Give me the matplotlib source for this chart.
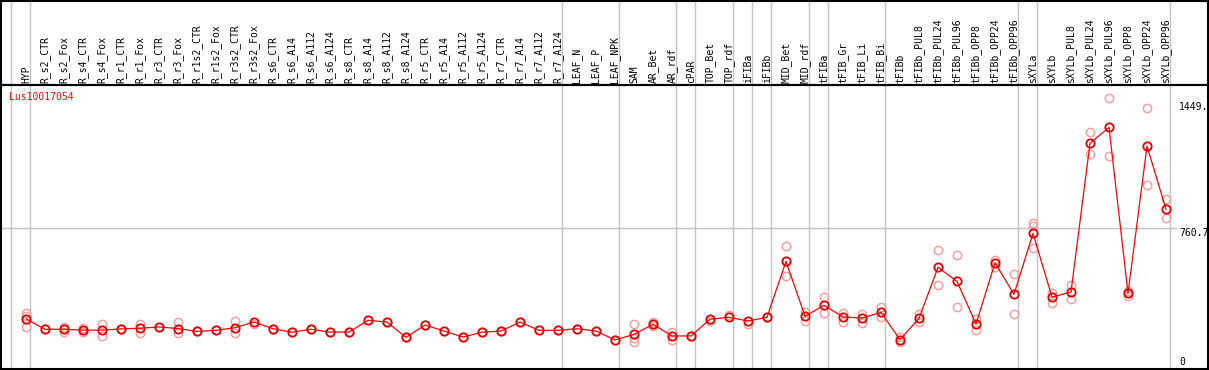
import matplotlib
matplotlib.use("Agg")
import matplotlib.pyplot as plt
from matplotlib.patches import Rectangle
from matplotlib.transforms import blended_transform_factory

# === Data ===
gene = "Lus10017054"

samples = [
    "HYP", "R_s2_CTR", "R_s2_Fox", "R_s4_CTR", "R_s4_Fox", "R_r1_CTR", "R_r1_Fox",
    "R_r3_CTR", "R_r3_Fox", "R_r1s2_CTR", "R_r1s2_Fox", "R_r3s2_CTR", "R_r3s2_Fox",
    "R_s6_CTR", "R_s6_A14", "R_s6_A112", "R_s6_A124", "R_s8_CTR", "R_s8_A14",
    "R_s8_A112", "R_s8_A124", "R_r5_CTR", "R_r5_A14", "R_r5_A112", "R_r5_A124",
    "R_r7_CTR", "R_r7_A14", "R_r7_A112", "R_r7_A124", "LEAF_N", "LEAF_P", "LEAF_NPK",
    "SAM", "AR_Bet", "AR_rdf", "cPAR", "TOP_Bet", "TOP_rdf", "iFIBa", "iFIBb",
    "MID_Bet", "MID_rdf", "tFIBa", "tFIB_Gr", "tFIB_Li", "tFIB_Bi", "tFIBb",
    "tFIBb_PUL8", "tFIBb_PUL24", "tFIBb_PUL96", "tFIBb_OPP8", "tFIBb_OPP24", "tFIBb_OPP96",
    "sXYLa", "sXYLb", "sXYLb_PUL8", "sXYLb_PUL24", "sXYLb_PUL96", "sXYLb_OPP8",
    "sXYLb_OPP24", "sXYLb_OPP96",
]

means = [
    245, 186, 186, 181, 181, 188, 192, 199, 190, 174, 180, 195, 227,
    189, 169, 186, 170, 170, 237, 227, 140, 210, 176, 142, 169,
    176, 227, 180, 180, 189, 176, 125,
    157, 214, 148, 148, 243, 254, 233, 254,
    572, 260, 322, 256, 250, 282, 127,
    248, 538, 458, 216, 563, 385,
    731, 369, 398, 1243, 1333, 390, 1227, 868,
]

replicates = [
    [277, 263, 197], [186], [200, 170], [191, 170], [218, 145], [188], [218, 166],
    [199], [229, 162], [174], [180], [231, 163], [218],
    [189], [169], [186], [170], [170], [237], [227], [140], [210], [176], [142], [169],
    [176], [227], [180], [180], [189], [176], [125],
    [216, 135, 115], [229, 205], [172, 125], [148], [235], [267], [216], [254],
    [657, 489], [286, 235], [368, 276], [276, 225], [271, 222], [311, 258], [144, 115],
    [273, 229], [635, 436], [606, 311], [246, 180], [580, 538], [500, 271],
    [788, 773, 646], [394, 337], [438, 356], [1305, 1180], [1498, 1169], [405, 375],
    [1441, 1004], [924, 817],
]

# group separators (drawn just after these sample indices)
separators = [-1, 0, 28, 31, 34, 35, 37, 38, 39, 41, 42, 45, 52, 53, 60]

y_labels = ["1449.", "760.7", "0"]
y_label_vals = [1449, 760.7, 0]
mid_line = 760.7

# === Figure ===
plt.rcParams["font.family"] = ["DejaVu Sans Mono"]
fig = plt.figure(figsize=(12.09, 3.70), dpi=100)
W, H = 1209, 370
ax = fig.add_axes([1 / W, 1 / H, 1207 / W, 284 / H])
ax.set_xlim(-1.316, 62.21)
ax.set_ylim(-39.8, 1574.0)
ax.set_xticks([])
ax.set_yticks([])
for s in ax.spines.values():
    s.set_linewidth(1.5)
    s.set_color("black")

# frame around the label area
fig.patches.append(Rectangle((1 / W, 285 / H), 1207 / W, 84.5 / H, fill=False,
                             edgecolor="black", linewidth=1.5,
                             transform=fig.transFigure))

grey = "#c4c4c4"
for s in separators:
    ax.axvline(s + 0.22, ymin=0, ymax=369 / 284, color=grey, lw=1, clip_on=False, zorder=1)
ax.axhline(mid_line, xmin=0, xmax=1175 / 1207, color=grey, lw=1, zorder=1)

x = list(range(len(samples)))

# replicate points
for i, reps in enumerate(replicates):
    ax.plot([i] * len(reps), reps, "o", ms=6, mfc="none", mec="#f0a0a0", mew=1.1, zorder=2)

# mean line and points
ax.plot(x, means, "-", color="red", lw=0.9, zorder=3)
ax.plot(x, means, "o", ms=6, mfc="none", mec="#e00000", mew=1.3, zorder=4)

# sample labels along the top
trans = blended_transform_factory(ax.transData, ax.transAxes)
for i, name in enumerate(samples):
    ax.text(i, 1.007, name, rotation=90, ha="center", va="bottom", fontsize=7,
            transform=trans, clip_on=False)

# value labels on the right
trans_r = blended_transform_factory(ax.transAxes, ax.transData)
for lab, v in zip(y_labels, y_label_vals):
    va = "top" if lab == "760.7" else "center"
    ax.text(0.976, v, lab, ha="left", va=va, fontsize=7, transform=trans_r)

ax.text(0.0066, 0.958, gene, color="red", fontsize=7, ha="left", va="center",
        transform=ax.transAxes)

fig.savefig("out.png", dpi=100)
